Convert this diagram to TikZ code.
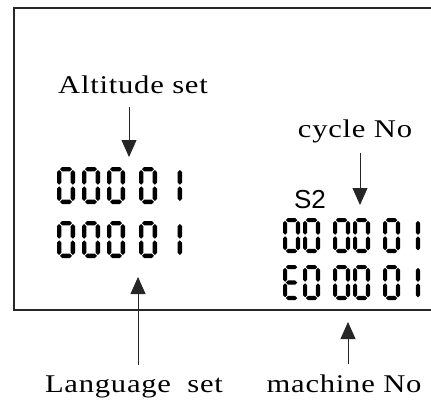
\documentclass[tikz,border=0pt]{standalone}
\usepackage{fontspec}
\newfontfamily\labelfont[FakeStretch=1.2, LetterSpace=3]{Liberation Serif}
\newfontfamily\tagfont{Liberation Sans}
\usetikzlibrary{arrows.meta, positioning}

% seven-segment pieces, digit cell 18 x 37
\newcommand{\hseg}[3]{\fill[segment] (#1,#3) -- ({#1+2.2},{#3-2.2}) -- ({#2-2.2},{#3-2.2}) -- (#2,#3) -- ({#2-2.2},{#3+2.2}) -- ({#1+2.2},{#3+2.2}) -- cycle;}
\newcommand{\vseg}[3]{\fill[segment] (#1,#2) -- ({#1+2.2},{#2+2.2}) -- ({#1+2.2},{#3-2.2}) -- (#1,#3) -- ({#1-2.2},{#3-2.2}) -- ({#1-2.2},{#2+2.2}) -- cycle;}
\newcommand{\sega}{\hseg{3}{15}{2.2}}
\newcommand{\segb}{\vseg{15.8}{3}{17.7}}
\newcommand{\segc}{\vseg{15.8}{19.3}{34}}
\newcommand{\segd}{\hseg{3}{15}{34.8}}
\newcommand{\sege}{\vseg{2.2}{19.3}{34}}
\newcommand{\segf}{\vseg{2.2}{3}{17.7}}
\newcommand{\segg}{\hseg{3}{15}{18.5}}
\newcommand{\lcddigit}[4]{%
  \begin{scope}[shift={(#1,#2)}, scale=#3]
    \foreach \s in {#4} {\csname seg\s\endcsname}
  \end{scope}}

\begin{document}
\begin{tikzpicture}[x=1pt, y=-1pt,
    segment/.style={fill=black},
    frame/.style={line width=1.6pt, draw=black!85},
    lbl/.style={inner sep=0pt, font=\labelfont\fontsize{25.5}{30}\selectfont},
    pointer/.style={-{Triangle[width=15pt,length=17pt]}, line width=0.8pt, black!85}]
    \useasboundingbox (0,0) rectangle (431,400);

    % Display frame (runs off the right side)
    \draw [frame] (431,8) -- (14,8) -- (14,310) -- (431,310);

    % Left readout
    \foreach \x in {57,82,107,139} {
        \lcddigit{\x}{167}{1}{a,b,c,d,e,f}
        \lcddigit{\x}{221}{1}{a,b,c,d,e,f}
    }
    \lcddigit{164}{167}{1}{b,c}
    \lcddigit{164}{221}{1}{b,c}

    % Right readout
    \node [anchor=base, inner sep=0pt, font=\tagfont\fontsize{26}{30}\selectfont] (stage) at (310,208) {S2};
    \foreach \x in {283,303,333,353,383} {
        \lcddigit{\x}{218}{0.95}{a,b,c,d,e,f}
    }
    \foreach \x in {303,333,353,383} {
        \lcddigit{\x}{265}{0.95}{a,b,c,d,e,f}
    }
    \lcddigit{283}{265}{0.95}{a,d,e,f,g}
    \lcddigit{403}{218}{0.95}{b,c}
    \lcddigit{403}{265}{0.95}{b,c}

    % Labels
    \node [lbl, anchor=base] (altitude) at (133,93) {Altitude set};
    \node [lbl, anchor=base] (cycle) at (355,137) {cycle No};
    \node [lbl, anchor=base] (language) at (134,392) {Language\hspace{8pt} set};
    \node [lbl, anchor=base] (machine) at (344,392) {machine No};

    % Arrow tips
    \coordinate (altitudetip) at (129,157);
    \coordinate (cycletip) at (360,205);
    \coordinate (languagetip) at (138,277);
    \coordinate (machinetip) at (348,322);

    % Connections
    \draw [pointer, shorten <=14pt] (altitude.south -| altitudetip) -- (altitudetip);
    \draw [pointer, shorten <=10pt] (cycle.south -| cycletip) -- (cycletip);
    \draw [pointer, shorten <=10pt] (language.north -| languagetip) -- (languagetip);
    \draw [pointer, shorten <=10pt] (machine.north -| machinetip) -- (machinetip);
\end{tikzpicture}
\end{document}
